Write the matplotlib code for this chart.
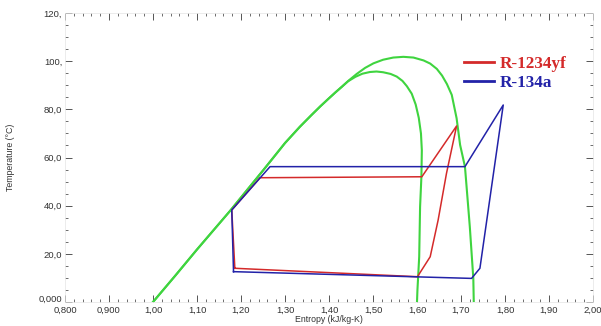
import matplotlib
matplotlib.use("Agg")
import matplotlib.pyplot as plt
from matplotlib.ticker import MultipleLocator, FixedLocator, FixedFormatter
from matplotlib.transforms import ScaledTranslation

# Saturation dome (shared liquid side)
common_s = [1.000, 1.050, 1.100, 1.175, 1.250, 1.300, 1.334, 1.360, 1.380, 1.400, 1.415, 1.430]
common_T = [0.0, 10.8, 21.8, 37.8, 54.6, 66.0, 72.8, 77.6, 81.2, 84.6, 87.1, 89.5]

# outer dome (R-134a)
outer_s = [1.445, 1.463, 1.482, 1.501, 1.523, 1.546, 1.569, 1.592, 1.615, 1.630,
           1.645, 1.657, 1.668, 1.679, 1.690, 1.698, 1.709, 1.720, 1.728, 1.729]
outer_T = [92.0, 94.7, 97.2, 99.1, 100.6, 101.5, 101.8, 101.5, 100.3, 99.0,
           96.8, 94.0, 90.5, 86.0, 76.3, 65.2, 56.2, 31.3, 9.8, 0.0]

# inner dome (R-1234yf)
inner_s = [1.443, 1.460, 1.476, 1.493, 1.508, 1.523, 1.540, 1.554, 1.567, 1.577,
           1.588, 1.597, 1.604, 1.609, 1.611, 1.610, 1.607, 1.605, 1.601, 1.600]
inner_T = [91.6, 93.5, 94.8, 95.5, 95.7, 95.4, 94.7, 93.6, 91.8, 89.6,
           86.5, 82.0, 76.5, 70.0, 63.0, 52.0, 39.5, 18.8, 5.0, 0.0]

# Refrigeration cycles
r1234yf_s = [1.186, 1.601, 1.630, 1.648, 1.667, 1.690, 1.611, 1.243, 1.179, 1.186]
r1234yf_T = [14.0, 10.5, 18.8, 34.0, 53.4, 73.1, 52.0, 51.6, 38.2, 14.0]

r134a_s = [1.183, 1.724, 1.743, 1.796, 1.709, 1.266, 1.179, 1.183]
r134a_T = [12.6, 9.8, 14.0, 81.8, 56.2, 56.2, 38.2, 12.6]

x_ticks = [0.8, 0.9, 1.0, 1.1, 1.2, 1.3, 1.4, 1.5, 1.6, 1.7, 1.8, 1.9, 2.0]
x_labels = ["0,800", "0,900", "1,00", "1,10", "1,20", "1,30", "1,40",
            "1,50", "1,60", "1,70", "1,80", "1,90", "2,00"]
y_ticks = [0, 20, 40, 60, 80, 100, 120]
y_labels = ["0,000", "20,0", "40,0", "60,0", "80,0", "100,", "120,"]

green = "#3fd43f"
red = "#d42a2a"
blue = "#2222a8"

fig = plt.figure(figsize=(6.01, 3.26), dpi=100)
ax = fig.add_axes([65 / 601, 24 / 326, 528 / 601, 289 / 326])

ax.plot(common_s + outer_s, common_T + outer_T, color=green, lw=1.5, zorder=2,
        solid_joinstyle="round")
ax.plot(common_s + inner_s, common_T + inner_T, color=green, lw=1.5, zorder=2,
        solid_joinstyle="round")
ax.plot(r1234yf_s, r1234yf_T, color=red, lw=1.1, label="R-1234yf", zorder=3)
ax.plot(r134a_s, r134a_T, color=blue, lw=1.1, label="R-134a", zorder=3)

ax.set_xlim(0.8, 2.0)
ax.set_ylim(0, 120)

ax.xaxis.set_major_locator(FixedLocator(x_ticks))
ax.xaxis.set_major_formatter(FixedFormatter(x_labels))
ax.xaxis.set_minor_locator(MultipleLocator(0.02))
ax.yaxis.set_major_locator(FixedLocator(y_ticks))
ax.yaxis.set_major_formatter(FixedFormatter(y_labels))
ax.yaxis.set_minor_locator(MultipleLocator(5))

ax.tick_params(which="both", direction="in", top=True, right=True,
               colors="#555555", labelcolor="#333333", labelsize=6.8)
ax.tick_params(which="major", length=5, width=0.7, pad=2)
ax.tick_params(axis="x", which="major", pad=3)
ax.tick_params(which="minor", length=2.5, width=0.6)
for lab in ax.get_xticklabels() + ax.get_yticklabels():
    lab.set_fontfamily("Liberation Sans")

# lift the "0,000" label slightly so it clears the x labels
ylabs = ax.get_yticklabels()
ylabs[0].set_transform(ylabs[0].get_transform() +
                       ScaledTranslation(0, 3 / 72, fig.dpi_scale_trans))

for sp in ax.spines.values():
    sp.set_color("#e4e4e4")
    sp.set_linewidth(0.5)

ax.set_xlabel("Entropy (kJ/kg-K)", fontsize=6.3, color="#333333", labelpad=0,
              family="Liberation Sans")
ax.set_ylabel("Temperature (°C)", fontsize=6.3, color="#333333", labelpad=17,
              family="Liberation Sans")

leg = ax.legend(loc="upper left", bbox_to_anchor=(0.755, 0.85), frameon=False,
                handlelength=1.8, handletextpad=0.3, labelspacing=0.15,
                borderpad=0, borderaxespad=0,
                prop={"family": "Liberation Serif", "weight": "bold", "size": 12.3})
for txt, line in zip(leg.get_texts(), leg.get_lines()):
    txt.set_color(line.get_color())
    line.set_linewidth(2.0)

fig.savefig("out.png", dpi=100, facecolor="white")
